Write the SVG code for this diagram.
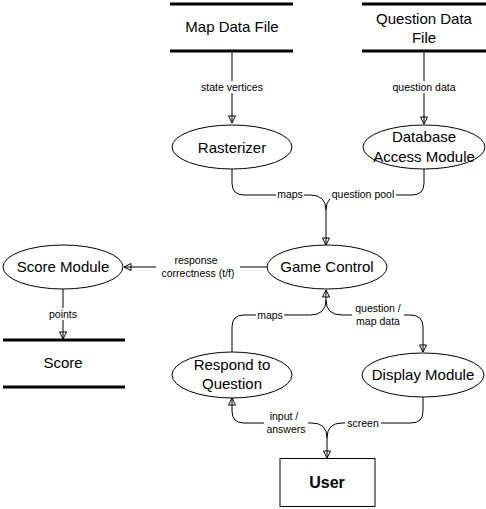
<svg xmlns="http://www.w3.org/2000/svg" width="486" height="509" viewBox="0 0 486 509">
<style>
.n{font-family:"Liberation Sans",Arial,sans-serif;font-size:15px;text-anchor:middle;fill:#000}
.l{font-family:"Liberation Sans",Arial,sans-serif;font-size:10.5px;text-anchor:middle;fill:#000}
.e{fill:#fff;stroke:#000;stroke-width:1}
.bar{stroke:#000;stroke-width:3}
.c{fill:none;stroke:#000;stroke-width:1}
.a{marker-end:url(#ah)}
.bg{fill:#fff}
</style>
<defs>
<marker id="ah" markerWidth="10" markerHeight="10" refX="8" refY="4" orient="auto" markerUnits="userSpaceOnUse">
<path d="M1,0.5 L8,4 L1,7.5 Z" fill="none" stroke="#000" stroke-width="1"/>
</marker>
</defs>
<rect width="486" height="509" fill="#fff"/>
<g id="connectors">
<path class="c a" d="M232,52 V123"/>
<path class="c a" d="M424,52 V124"/>
<path class="c a" d="M232,169 V183 Q232,195 244,195 H310 Q326,195 326,210 V245"/>
<path class="c" d="M424,169 V183 Q424,195 412,195 H342 Q326,195 326,210"/>
<path class="c a" d="M267,267 H124"/>
<path class="c a" d="M63,289 V339"/>
<path class="c a" d="M232,352 V327 Q232,315 244,315 H310 Q326,315 326,300 V290"/>
<path class="c a" d="M326,300 Q326,315 342,315 H410 Q423,315 423,327 V352"/>
<path class="c a" d="M423,397 V411 Q423,423 411,423 H342 Q327,423 327,438 V458"/>
<path class="c a" d="M327,438 Q327,423 312,423 H244 Q232,423 232,411 V398"/>
<rect class="bg" x="198" y="81" width="68" height="12"/>
<text class="l" x="232" y="91">state vertices</text>
<rect class="bg" x="389" y="81" width="70" height="12"/>
<text class="l" x="424" y="91">question data</text>
<rect class="bg" x="276" y="189" width="28" height="12"/>
<text class="l" x="290" y="198">maps</text>
<rect class="bg" x="330" y="189" width="66" height="12"/>
<text class="l" x="363" y="198">question pool</text>
<rect class="bg" x="156" y="254" width="84" height="26"/>
<text class="l" x="196" y="264">response</text>
<text class="l" x="198" y="277">correctness (t/f)</text>
<rect class="bg" x="44" y="308" width="38" height="12"/>
<text class="l" x="63" y="318">points</text>
<rect class="bg" x="256" y="309" width="28" height="12"/>
<text class="l" x="270" y="319">maps</text>
<rect class="bg" x="352" y="302" width="52" height="26"/>
<text class="l" x="378" y="312">question /</text>
<text class="l" x="378" y="325">map data</text>
<rect class="bg" x="264" y="410" width="44" height="26"/>
<text class="l" x="284" y="420">input /</text>
<text class="l" x="286" y="433">answers</text>
<rect class="bg" x="345" y="417" width="36" height="12"/>
<text class="l" x="363" y="427">screen</text>
</g>
<g id="map-data-file">
<line class="bar" x1="170" y1="4" x2="293" y2="4"/>
<line class="bar" x1="170" y1="51" x2="293" y2="51"/>
<text class="n" x="232" y="32">Map Data File</text>
</g>
<g id="question-data-file">
<line class="bar" x1="362" y1="4" x2="486" y2="4"/>
<line class="bar" x1="362" y1="51" x2="486" y2="51"/>
<text class="n" x="424" y="24">Question Data</text>
<text class="n" x="424" y="43">File</text>
</g>
<g id="rasterizer">
<ellipse class="e" cx="232" cy="147" rx="60" ry="22"/>
<text class="n" x="232" y="153">Rasterizer</text>
</g>
<g id="database-access-module">
<ellipse class="e" cx="424" cy="147" rx="61" ry="22"/>
<text class="n" x="424" y="142">Database</text>
<text class="n" x="424" y="162">Access Module</text>
</g>
<g id="game-control">
<ellipse class="e" cx="327" cy="267" rx="60" ry="22"/>
<text class="n" x="327" y="272">Game Control</text>
</g>
<g id="score-module">
<ellipse class="e" cx="63" cy="267" rx="60" ry="22"/>
<text class="n" x="63" y="272">Score Module</text>
</g>
<g id="score">
<line class="bar" x1="3" y1="340" x2="125" y2="340"/>
<line class="bar" x1="3" y1="387" x2="125" y2="387"/>
<text class="n" x="63" y="368">Score</text>
</g>
<g id="respond-to-question">
<ellipse class="e" cx="232" cy="375" rx="60" ry="23"/>
<text class="n" x="232" y="370">Respond to</text>
<text class="n" x="232" y="389">Question</text>
</g>
<g id="display-module">
<ellipse class="e" cx="423" cy="375" rx="61" ry="22"/>
<text class="n" x="423" y="380">Display Module</text>
</g>
<g id="user">
<rect x="280" y="458.5" width="95" height="48" fill="#fff" stroke="#000" stroke-width="1"/>
<text class="n" x="327" y="488" style="font-weight:bold;font-size:16px">User</text>
</g>
</svg>
